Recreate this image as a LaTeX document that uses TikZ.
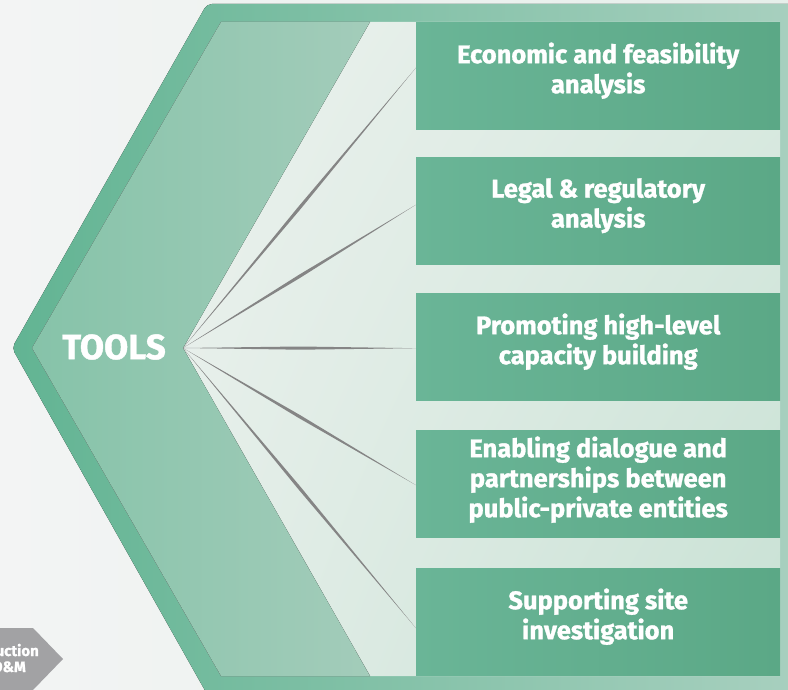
\documentclass[tikz,border=0pt]{standalone}
\usepackage{fontspec}
\setmainfont{Fira Sans}[FakeBold=1.2]
\newfontfamily\boxfont{Fira Sans}[FakeBold=1.2]
\usetikzlibrary{calc,shadings}
\definecolor{bgL}{HTML}{F3F4F4}
\definecolor{bgR}{HTML}{E6EFEA}
\definecolor{frameL}{HTML}{62B493}
\definecolor{frameR}{HTML}{A8D0BF}
\definecolor{bandL}{HTML}{86C3A9}
\definecolor{bandR}{HTML}{A3CCBA}
\definecolor{innerTL}{HTML}{F0F3F1}
\definecolor{innerTR}{HTML}{DAEAE1}
\definecolor{innerBL}{HTML}{EAF1ED}
\definecolor{innerBR}{HTML}{C8E1D4}
\definecolor{boxL}{HTML}{6AB597}
\definecolor{boxR}{HTML}{5BA886}
\definecolor{spokeC}{HTML}{858585}
\definecolor{grayC}{HTML}{A2A2A4}
\tikzset{
  toolbox/.style={draw=none, left color=boxL, right color=boxR, minimum width=364pt,
    minimum height=107pt, anchor=north west, inner sep=0pt},
  boxtext/.style={align=center, text=white, inner sep=0pt,
    font=\boxfont\bfseries\fontsize{25.5}{30}\selectfont},
  spoke/.style={fill=spokeC},
  graylabel/.style={text=white, font=\boxfont\bfseries\fontsize{15}{16}\selectfont, inner sep=0pt, anchor=base east}
}
\newcommand{\spokeline}[2]{%
  \path coordinate (sm) at ($(#1)!0.5!(#2)$);
  \fill[spoke] (#1) -- ($(sm)!1.6pt!90:(#2)$) -- (#2) -- ($(sm)!1.6pt!-90:(#2)$) -- cycle;}
\begin{document}
\begin{tikzpicture}[x=1pt,y=-1pt]
\useasboundingbox (0,0) rectangle (788,690);
\clip (0,0) rectangle (788,690);
% background
\fill[left color=bgL, right color=bgR] (0,0) rectangle (788,690);
% outer frame of chevron
\fill[left color=frameL, right color=frameR, rounded corners=5pt]
  (12,348) -- (207,4) -- (800,4) -- (800,694) -- (207,694) -- cycle;
% inner area
\shade[upper left=innerTL, upper right=innerTR, lower left=innerBL, lower right=innerBR]
  (32,348) -- (221,22) -- (780,22) -- (780,676) -- (221,676) -- cycle;
% band
\fill[left color=bandL, right color=bandR]
  (32,348) -- (221,22) -- (370,22) -- (183,348) -- (370,676) -- (221,676) -- cycle;
% title
\node[text=white, font=\bfseries\fontsize{35}{40}\selectfont, inner sep=0pt] (tools) at (114,347) {TOOLS};
\coordinate (hub) at (183,348);
% boxes
\node[toolbox] (b1) at (416,22) {};
\node[toolbox] (b2) at (416,157) {};
\node[toolbox] (b3) at (416,293) {};
\node[toolbox] (b4) at (416,430) {};
\node[toolbox] (b5) at (416,568) {};
\node[boxtext] (t1) at ($(b1.center)+(0,-5)$) {Economic and feasibility\\analysis};
\node[boxtext] (t2) at ($(b2.center)+(0,-5)$) {Legal \& regulatory\\analysis};
\node[boxtext] (t3) at ($(b3.center)+(0,-5)$) {Promoting high-level\\capacity building};
\node[boxtext] (t4) at ($(b4.center)+(0,-4)$) {Enabling dialogue and\\partnerships between\\public-private entities};
\node[boxtext] (t5) at ($(b5.center)+(0,-5)$) {Supporting site\\investigation};
% spoke ends
\coordinate (e1) at ($(b1.west)+(0,-8)$);
\coordinate (e2) at ($(b2.west)+(0,-6)$);
\coordinate (e3) at ($(b3.west)+(0,1.5)$);
\coordinate (e4) at ($(b4.west)+(0,1.5)$);
\coordinate (e5) at ($(b5.west)+(0,6.5)$);
\spokeline{hub}{e1}
\spokeline{hub}{e2}
\spokeline{hub}{e3}
\spokeline{hub}{e4}
\spokeline{hub}{e5}
% gray previous-step arrow
\fill[grayC] (-5,628) -- (33,628) -- (63,659) -- (33,690) -- (-5,690) -- cycle;
\node[graylabel] (g1) at (39,656) {Construction};
\node[graylabel] (g2) at (26,672) {O\&M};
\end{tikzpicture}
\end{document}
